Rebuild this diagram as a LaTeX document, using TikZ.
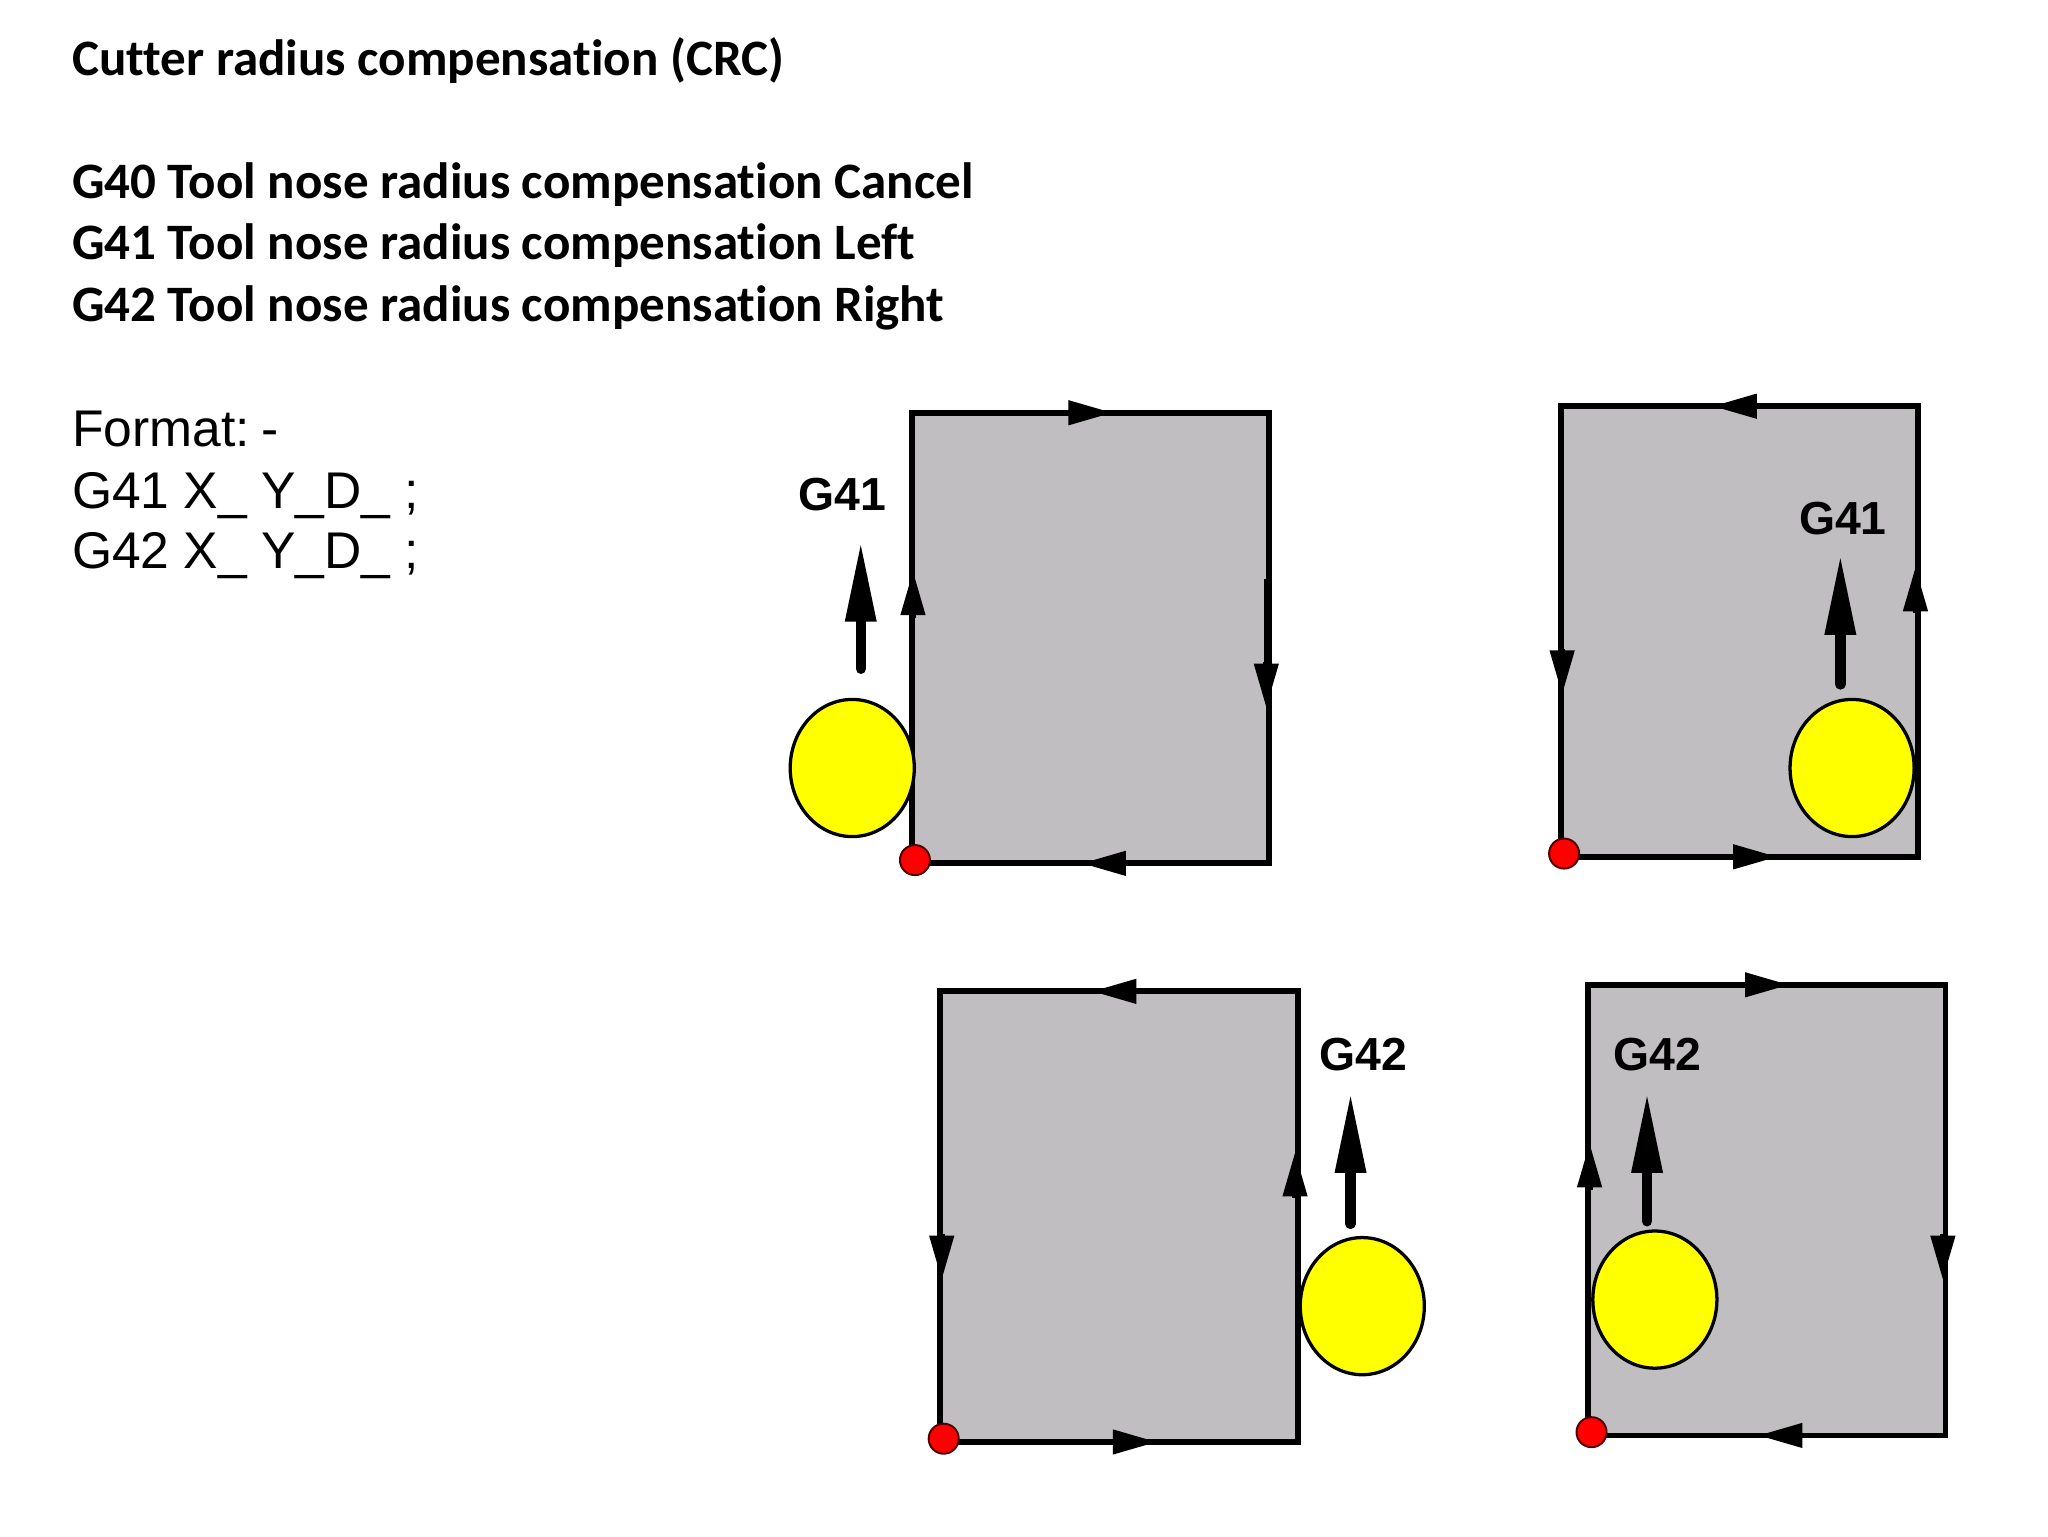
\documentclass[tikz,border=0pt]{standalone}
\usepackage{fontspec}
\setmainfont[Ligatures=NoCommon]{Carlito}
\newfontfamily\armfont{Liberation Sans}
\usetikzlibrary{arrows.meta,shapes.geometric}
\definecolor{partgray}{HTML}{C0BEC0}
\definecolor{toolyellow}{RGB}{255,255,0}
\definecolor{dotred}{RGB}{255,0,0}
\tikzset{
  headline/.style={anchor=base west,inner sep=0pt,font=\fontsize{39.1}{44}\selectfont\bfseries},
  formatline/.style={anchor=base west,inner sep=0pt,font=\fontsize{39.5}{44}\selectfont\armfont},
  gcode/.style={inner sep=0pt,font=\fontsize{35.5}{40}\selectfont\armfont\bfseries},
  part/.style={draw=black,fill=partgray,line width=4.5pt,minimum width=273.5pt,minimum height=345pt,inner sep=0pt,outer sep=0pt,anchor=north west},
  tool/.style={ellipse,draw=black,fill=toolyellow,line width=2.5pt,minimum width=95pt,minimum height=105pt,inner sep=0pt},
  startdot/.style={circle,draw=black!70!red,fill=dotred,line width=1.5pt,minimum size=23pt,inner sep=0pt},
  edgehead/.style={line width=4.5pt,-{Triangle[length=34pt,width=18pt]},shorten >=-4pt},
  feedarrow/.style={line width=8pt,line cap=round,-{Triangle[length=62pt,width=22pt]},shorten >=-4pt,shorten <=3pt}
}
\begin{document}
\begin{tikzpicture}[x=1pt,y=-1pt]

\useasboundingbox (0,0) rectangle (1568,1176);

% text on the left
\node[headline] (title) at (55,58) {Cutter radius compensation (CRC)};
\node[headline] (gforty) at (55,152) {G40 Tool nose radius compensation Cancel};
\node[headline] (gfortyone) at (55,199) {G41 Tool nose radius compensation Left};
\node[headline] (gfortytwo) at (55,246) {G42 Tool nose radius compensation Right};
\node[formatline] (format) at (55,342) {Format:\kern-2pt\ -};
\node[formatline] (formatleft) at (55,389) {G41 X\_ Y\_D\_ ;};
\node[formatline] (formatright) at (55,435) {G42 X\_ Y\_D\_ ;};

% the four parts
\foreach \pname/\px/\py/\ax/\ayt/\ayh/\lx/\ly/\gtext in {
    pa/698/316/659/515/418/645/379/G41,
    pb/1195/311/1409/527/428/1411/397/G41,
    pc/720/759/1034/940/840/1044/807/G42,
    pd/1216/754/1261/938/840/1269/807/G42} {
\node[part] (\pname) at (\px,\py) {};
\coordinate (\pname tail) at (\ax,\ayt);
\coordinate (\pname tip) at (\ax,\ayh);
\draw[feedarrow] (\pname tail) -- (\pname tip);
\node[gcode] (\pname label) at (\lx,\ly) {\gtext};
}

% clockwise
\foreach \pname in {pa,pd} {
\draw[edgehead] ([xshift=120pt]\pname.north west) -- ([xshift=150pt]\pname.north west);
\draw[edgehead] ([xshift=-2pt,yshift=-191pt]\pname.north east) -- ([xshift=-2pt,yshift=-222pt]\pname.north east);
\draw[edgehead] ([xshift=163pt]\pname.south west) -- ([xshift=134pt]\pname.south west);
\draw[edgehead] ([xshift=1pt,yshift=-157pt]\pname.north west) -- ([xshift=1pt,yshift=-125pt]\pname.north west);
}

% counterclockwise
\foreach \pname in {pb,pc} {
\draw[edgehead] ([xshift=150pt]\pname.north west) -- ([xshift=120pt]\pname.north west);
\draw[edgehead] ([xshift=1pt,yshift=-186pt]\pname.north west) -- ([xshift=1pt,yshift=-217pt]\pname.north west);
\draw[edgehead] ([xshift=131pt]\pname.south west) -- ([xshift=162pt]\pname.south west);
\draw[edgehead] ([xshift=-2pt,yshift=-158pt]\pname.north east) -- ([xshift=-2pt,yshift=-127pt]\pname.north east);
}

\draw[line width=3pt] ([xshift=-2pt,yshift=-127pt]pa.north east) -- ([xshift=-2pt,yshift=-195pt]pa.north east);

\foreach \pname/\tx/\ty in {pa/652.5/588,pb/1418/588,pc/1043/1000,pd/1267/995} {
\node[tool] (\pname tool) at (\tx,\ty) {};
\node[startdot] (\pname start) at ([xshift=2.5pt,yshift=2.5pt]\pname.south west) {};
}

\end{tikzpicture}
\end{document}
